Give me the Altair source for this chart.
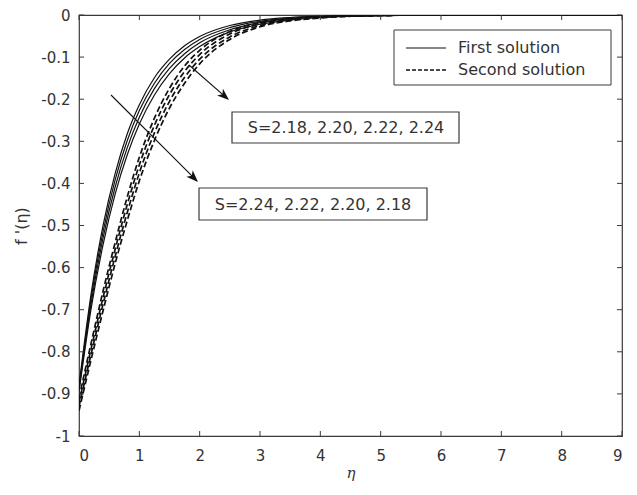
import math
import altair as alt
import pandas as pd

# ---------------- data ----------------
eta = [0, 0.2, 0.4, 0.6, 0.8, 1.0, 1.25, 1.5, 1.75, 2, 2.5, 3, 3.5, 4, 4.5, 5, 6, 7, 8, 9]

first_a = [-0.880, -0.663, -0.499, -0.376, -0.282, -0.213, -0.149, -0.105, -0.073, -0.051,
           -0.025, -0.012, -0.006, -0.003, -0.001, -0.001, 0, 0, 0, 0]
first_b = [-0.885, -0.674, -0.514, -0.391, -0.298, -0.227, -0.162, -0.115, -0.082, -0.058,
           -0.030, -0.015, -0.008, -0.004, -0.002, -0.001, 0, 0, 0, 0]
first_c = [-0.890, -0.686, -0.529, -0.408, -0.315, -0.243, -0.175, -0.127, -0.092, -0.066,
           -0.035, -0.018, -0.009, -0.005, -0.003, -0.001, 0, 0, 0, 0]
first_d = [-0.895, -0.698, -0.545, -0.425, -0.332, -0.259, -0.190, -0.139, -0.102, -0.075,
           -0.040, -0.022, -0.012, -0.006, -0.003, -0.002, 0, 0, 0, 0]

second_a = [-0.910, -0.780, -0.655, -0.540, -0.432, -0.338, -0.245, -0.174, -0.121, -0.084,
            -0.039, -0.018, -0.008, -0.004, -0.002, -0.001, 0, 0, 0, 0]
second_b = [-0.920, -0.793, -0.670, -0.556, -0.450, -0.356, -0.262, -0.189, -0.134, -0.094,
            -0.045, -0.021, -0.010, -0.005, -0.002, -0.001, 0, 0, 0, 0]
second_c = [-0.930, -0.806, -0.686, -0.573, -0.469, -0.375, -0.280, -0.205, -0.148, -0.105,
            -0.052, -0.025, -0.012, -0.006, -0.003, -0.001, 0, 0, 0, 0]
second_d = [-0.940, -0.819, -0.702, -0.590, -0.488, -0.394, -0.298, -0.221, -0.162, -0.116,
            -0.058, -0.028, -0.014, -0.007, -0.003, -0.001, 0, 0, 0, 0]

s_values = ["2.18", "2.20", "2.22", "2.24"]
x_ticks = [0, 1, 2, 3, 4, 5, 6, 7, 8, 9]
y_ticks = [0, -0.1, -0.2, -0.3, -0.4, -0.5, -0.6, -0.7, -0.8, -0.9, -1]

legend_labels = ["First solution", "Second solution"]
note_upper = "S=2.18, 2.20, 2.22, 2.24"
note_lower = "S=2.24, 2.22, 2.20, 2.18"

# ---------------- build tables ----------------
rows = []
for s, series in zip(s_values, [first_a, first_b, first_c, first_d]):
    for e, v in zip(eta, series):
        rows.append({"eta": e, "f": v, "curve": "first " + s, "sol": "First"})
for s, series in zip(s_values, [second_a, second_b, second_c, second_d]):
    for e, v in zip(eta, series):
        rows.append({"eta": e, "f": v, "curve": "second " + s, "sol": "Second"})
df = pd.DataFrame(rows)

W, H = 543, 421
FONT = "DejaVu Sans"
INK = "#111111"
AXC = "#3a3a3a"
TXT = "#333333"

xs = alt.Scale(domain=[0, 9], nice=False, zero=False)
ys = alt.Scale(domain=[-1, 0], nice=False, zero=False)

x_axis = alt.Axis(values=x_ticks, title="η", grid=False, ticks=False, domain=False,
                  labelFont=FONT, labelFontSize=15, labelColor=TXT, labelPadding=12,
                  titleFont="DejaVu Serif", titleFontStyle="italic", titleFontWeight="normal",
                  titleFontSize=15, titleColor=TXT, titlePadding=2)
y_axis = alt.Axis(values=y_ticks, title="f '(η)", grid=False, ticks=False, domain=False,
                  labelFont=FONT, labelFontSize=15, labelColor=TXT, labelPadding=9,
                  labelExpr="datum.value == 0 ? '0' : (datum.value <= -1 ? '-1' : '-0.' + round(-datum.value*10))",
                  titleFont=FONT, titleFontWeight="normal", titleFontSize=16, titleColor=TXT,
                  titlePadding=11)


def X(field):
    return alt.X(field, scale=xs, axis=x_axis, title="η")


def Y(field):
    return alt.Y(field, scale=ys, axis=y_axis, title="f '(η)")


base = alt.Chart(df)

solid = base.transform_filter(alt.datum.sol == "First").mark_line(
    color=INK, strokeWidth=1.2, interpolate="monotone", clip=True
).encode(x=X("eta:Q"), y=Y("f:Q"), detail="curve:N")

dashed = base.transform_filter(alt.datum.sol == "Second").mark_line(
    color=INK, strokeWidth=1.7, strokeDash=[6, 3], interpolate="monotone", clip=True
).encode(x=X("eta:Q"), y=Y("f:Q"), detail="curve:N")

# inward ticks (MATLAB style), all four sides
TL = 5
xt = pd.DataFrame({"eta": x_ticks})
yt = pd.DataFrame({"f": y_ticks})
tick_x_bottom = alt.Chart(xt).mark_rule(color=AXC, strokeWidth=1).encode(
    x=X("eta:Q"), y=alt.value(H), y2=alt.value(H - TL))
tick_x_top = alt.Chart(xt).mark_rule(color=AXC, strokeWidth=1).encode(
    x=X("eta:Q"), y=alt.value(0), y2=alt.value(TL))
tick_y_left = alt.Chart(yt).mark_rule(color=AXC, strokeWidth=1).encode(
    y=Y("f:Q"), x=alt.value(0), x2=alt.value(TL))
tick_y_right = alt.Chart(yt).mark_rule(color=AXC, strokeWidth=1).encode(
    y=Y("f:Q"), x=alt.value(W), x2=alt.value(W - TL))

one = pd.DataFrame({"a": [0]})

# legend box
leg_box = alt.Chart(one).mark_rect(fill="white", stroke=AXC, strokeWidth=1).encode(
    x=alt.value(315), x2=alt.value(532), y=alt.value(15), y2=alt.value(70))
leg_solid = alt.Chart(one).mark_rule(color=INK, strokeWidth=1.2).encode(
    x=alt.value(327), x2=alt.value(367), y=alt.value(33))
leg_dash = alt.Chart(one).mark_rule(color=INK, strokeWidth=1.6, strokeDash=[4, 2]).encode(
    x=alt.value(327), x2=alt.value(367), y=alt.value(55))
leg_t1 = alt.Chart(one).mark_text(align="left", baseline="middle", font=FONT, fontSize=16,
                                  color=TXT, text=legend_labels[0]).encode(
    x=alt.value(379), y=alt.value(33))
leg_t2 = alt.Chart(one).mark_text(align="left", baseline="middle", font=FONT, fontSize=16,
                                  color=TXT, text=legend_labels[1]).encode(
    x=alt.value(379), y=alt.value(55))

# annotation boxes
box1 = alt.Chart(one).mark_rect(fill="white", stroke=AXC, strokeWidth=1.2).encode(
    x=alt.value(153), x2=alt.value(380), y=alt.value(97), y2=alt.value(128))
box1_t = alt.Chart(one).mark_text(align="center", baseline="middle", font=FONT, fontSize=16,
                                  color=TXT, text=note_upper).encode(
    x=alt.value(267), y=alt.value(113))
box2 = alt.Chart(one).mark_rect(fill="white", stroke=AXC, strokeWidth=1.2).encode(
    x=alt.value(120), x2=alt.value(348), y=alt.value(173), y2=alt.value(205))
box2_t = alt.Chart(one).mark_text(align="center", baseline="middle", font=FONT, fontSize=16,
                                  color=TXT, text=note_lower).encode(
    x=alt.value(234), y=alt.value(190))


def arrow(x0, y0, x1, y1):
    dx, dy = x1 - x0, y1 - y0
    L = math.hypot(dx, dy)
    ang = math.degrees(math.atan2(dy, dx))
    head = 12
    cx = x1 - dx / L * head / 2
    cy = y1 - dy / L * head / 2
    shaft = alt.Chart(one).mark_rule(color=INK, strokeWidth=1.1).encode(
        x=alt.value(x0), x2=alt.value(x1 - dx / L * 4), y=alt.value(y0), y2=alt.value(y1 - dy / L * 4))
    tip = alt.Chart(one).mark_point(
        shape="M1,0 L-1,-0.75 L-0.45,0 L-1,0.75 Z", filled=True, color=INK, opacity=1,
        size=head * head, angle=ang % 360).encode(x=alt.value(cx), y=alt.value(cy))
    return [shaft, tip]


arrows = arrow(110, 50, 150, 85) + arrow(32, 80, 119, 167)

chart = alt.layer(
    solid, dashed, tick_x_bottom, tick_x_top, tick_y_left, tick_y_right,
    *arrows, leg_box, leg_solid, leg_dash, leg_t1, leg_t2, box1, box1_t, box2, box2_t
).properties(
    width=W, height=H,
    padding={"left": 71, "top": 7, "right": 7, "bottom": 45},
    autosize=alt.AutoSizeParams(type="none"),
    background="white",
).configure_view(stroke=AXC, strokeWidth=1.2)

chart.save("out.html", embed_options={"renderer": "svg", "actions": False})
